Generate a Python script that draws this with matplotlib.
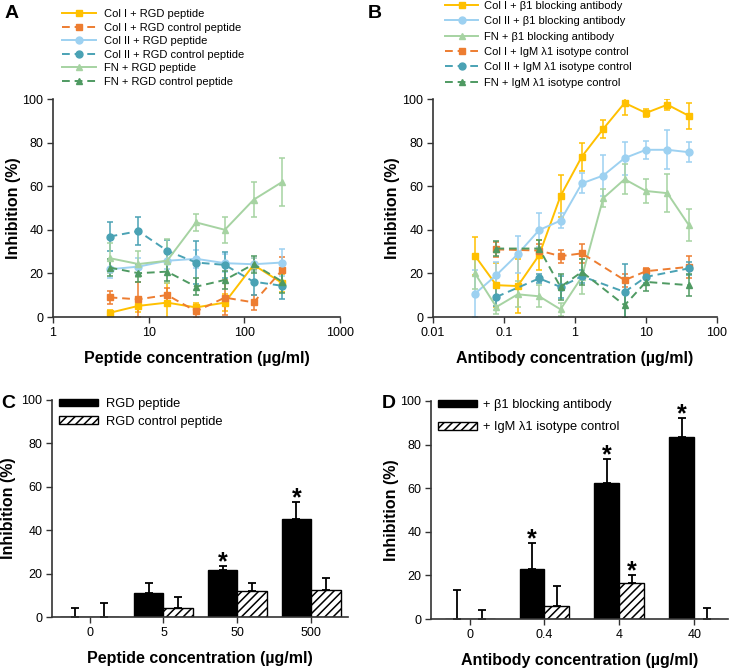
import matplotlib
matplotlib.use("Agg")
import matplotlib.pyplot as plt
import numpy as np

plt.rcParams['font.family'] = ['Liberation Sans', 'DejaVu Sans']
plt.rcParams['hatch.linewidth'] = 1.1

# ---------------- Panel A data ----------------
pep_conc = [3.9, 7.8, 15.6, 31.25, 62.5, 125, 250]
colI_rgd = [1.9, 5.1, 6.6, 4.4, 6.6, 23.9, 15.5]
colI_rgd_err = [1.5, 3, 9, 2, 4, 3, 4]
colI_ctrl = [9.0, 8.1, 10.1, 2.6, 8.9, 6.7, 21.6]
colI_ctrl_err = [3, 8, 3, 3, 8, 3.5, 6]
colII_rgd = [21.9, 23.1, 25.8, 26.7, 24.7, 24.2, 25.0]
colII_rgd_err = [4, 4, 4, 4, 4, 3, 6]
colII_ctrl = [36.9, 39.4, 30.4, 25.0, 23.9, 16.2, 14.3]
colII_ctrl_err = [6.5, 6.5, 5, 10, 6, 6, 6]
fn_rgd = [27.0, 24.3, 25.8, 43.4, 40.0, 53.8, 62.0]
fn_rgd_err = [7, 6, 10, 4, 6, 8, 11]
fn_ctrl = [22.7, 20.1, 20.8, 13.9, 17.0, 24.2, 16.2]
fn_ctrl_err = [4, 4, 4.5, 4, 4, 4, 5]

# ---------------- Panel B data ----------------
ab_conc = [0.039, 0.078, 0.156, 0.3125, 0.625, 1.25, 2.5, 5, 10, 20, 40]
colI_b1 = [28.1, 14.6, 14.2, 28.4, 55.5, 73.6, 86.3, 98.2, 93.6, 97.4, 92.3]
colI_b1_err = [8.7, 10, 12.3, 7, 9.7, 6.4, 4, 5.4, 2, 2.5, 6]
colII_b1 = [10.7, 19.2, 28.8, 39.9, 44.2, 61.3, 64.9, 72.9, 76.7, 76.7, 75.6]
colII_b1_err = [10.7, 6, 8.5, 7.7, 3.5, 4.6, 9.5, 7.6, 4, 9, 4.5]
fn_b1 = [20.0, 4.6, 10.4, 9.5, 3.5, 18.4, 54.5, 63.2, 57.8, 56.8, 42.2]
fn_b1_err = [7, 3, 6, 5, 3, 8, 4, 7, 5.4, 8.7, 7.4]
iso_conc = [0.078, 0.3125, 0.625, 1.25, 5, 10, 40]
colI_iso = [31.0, 30.5, 27.9, 29.2, 16.9, 21.0, 23.0]
colI_iso_err = [3.5, 3, 3, 4.5, 3, 1.5, 5]
colII_iso = [9.2, 17.7, 13.8, 18.7, 11.5, 18.4, 22.3]
colII_iso_err = [4, 2, 5, 3, 12.8, 3, 3]
fn_iso = [31.4, 31.4, 13.8, 20.7, 5.4, 16.1, 14.6]
fn_iso_err = [3.5, 4, 6, 6, 6, 4, 5]

# ---------------- Panel C data ----------------
c_categories = ['0', '5', '50', '500']
c_rgd = [0, 11.1, 21.5, 45.1]
c_rgd_err = [4.3, 4.6, 2.0, 8.0]
c_ctrl = [0, 4.3, 12.0, 12.3]
c_ctrl_err = [6.5, 4.9, 3.7, 5.7]
c_rgd_sig = [False, False, True, True]

# ---------------- Panel D data ----------------
d_categories = ['0', '0.4', '4', '40']
d_b1 = [0, 22.9, 62.2, 83.5]
d_b1_err = [13.4, 11.9, 11.4, 8.5]
d_iso = [0, 5.8, 16.5, 0]
d_iso_err = [4.3, 9.4, 3.5, 5.0]
d_b1_sig = [False, True, True, True]
d_iso_sig = [False, False, True, False]

YELLOW = '#FFC000'
ORANGE = '#ED7D31'
LBLUE = '#9DD1F1'
TEAL = '#4AA2B4'
LGREEN = '#A6D3A2'
DGREEN = '#4F9A62'

W, H = 733, 672
fig = plt.figure(figsize=(W / 100, H / 100), dpi=100)


def rect(l, t, r, b):
    return [l / W, 1 - b / H, (r - l) / W, (b - t) / H]


TICK_FS = 9
LABEL_FS = 11.5


def style_axes(ax, label_right_px, left_px, width_px):
    for s in ['top', 'right']:
        ax.spines[s].set_visible(False)
    for s in ['left', 'bottom']:
        ax.spines[s].set_linewidth(1.2)
        ax.spines[s].set_color('#333333')
    ax.tick_params(axis='both', direction='out', length=4, width=1.0,
                   labelsize=TICK_FS, pad=3, colors='#333333', labelcolor='black')
    ax.tick_params(axis='x', which='minor', length=0)
    ax.set_ylim(0, 100)
    ax.set_yticks([0, 20, 40, 60, 80, 100])
    ax.set_ylabel('Inhibition (%)', fontsize=LABEL_FS, fontweight='bold')
    ax.yaxis.set_label_coords((label_right_px - left_px) / width_px, 0.5)


def line_series(ax, x, y, e, color, marker, dashed, label):
    ls = (0, (4, 2.5)) if dashed else '-'
    cont = ax.errorbar(x, y, yerr=e, color=color, marker=marker, markersize=5,
                       linestyle=ls, linewidth=1.4, elinewidth=1.1, capsize=2.5,
                       capthick=1.1)
    line = cont[0]
    line.set_label(label)
    return line


# ---------------- Panel A ----------------
axA = fig.add_axes(rect(53, 99, 340, 317))
style_axes(axA, 21, 53, 287)
axA.set_xscale('log')
axA.set_xlim(1, 1000)
axA.set_xticks([1, 10, 100, 1000])
axA.set_xticklabels(['1', '10', '100', '1000'])
hA = [
    line_series(axA, pep_conc, colI_rgd, colI_rgd_err, YELLOW, 's', False, 'Col I + RGD peptide'),
    line_series(axA, pep_conc, colI_ctrl, colI_ctrl_err, ORANGE, 's', True, 'Col I + RGD control peptide'),
    line_series(axA, pep_conc, colII_rgd, colII_rgd_err, LBLUE, 'o', False, 'Col II + RGD peptide'),
    line_series(axA, pep_conc, colII_ctrl, colII_ctrl_err, TEAL, 'o', True, 'Col II + RGD control peptide'),
    line_series(axA, pep_conc, fn_rgd, fn_rgd_err, LGREEN, '^', False, 'FN + RGD peptide'),
    line_series(axA, pep_conc, fn_ctrl, fn_ctrl_err, DGREEN, '^', True, 'FN + RGD control peptide'),
]
axA.set_xlabel('Peptide concentration (\u00b5g/ml)', fontsize=LABEL_FS, fontweight='bold', labelpad=9)
axA.legend(handles=hA, loc='upper left', bbox_to_anchor=(62 / W, 1 - 9 / H),
           bbox_transform=fig.transFigure, frameon=False, fontsize=8,
           handlelength=3.1, handletextpad=0.7, labelspacing=0.32,
           borderpad=0, borderaxespad=0, numpoints=1)

# ---------------- Panel B ----------------
axB = fig.add_axes(rect(433, 99, 717, 317))
style_axes(axB, 400, 433, 284)
axB.set_xscale('log')
axB.set_xlim(0.01, 100)
axB.set_xticks([0.01, 0.1, 1, 10, 100])
axB.set_xticklabels(['0.01', '0.1', '1', '10', '100'])
hB = [
    line_series(axB, ab_conc, colI_b1, colI_b1_err, YELLOW, 's', False, 'Col I + \u03b21 blocking antibody'),
    line_series(axB, ab_conc, colII_b1, colII_b1_err, LBLUE, 'o', False, 'Col II + \u03b21 blocking antibody'),
    line_series(axB, ab_conc, fn_b1, fn_b1_err, LGREEN, '^', False, 'FN + \u03b21 blocking antibody'),
    line_series(axB, iso_conc, colI_iso, colI_iso_err, ORANGE, 's', True, 'Col I + IgM \u03bb1 isotype control'),
    line_series(axB, iso_conc, colII_iso, colII_iso_err, TEAL, 'o', True, 'Col II + IgM \u03bb1 isotype control'),
    line_series(axB, iso_conc, fn_iso, fn_iso_err, DGREEN, '^', True, 'FN + IgM \u03bb1 isotype control'),
]
axB.set_xlabel('Antibody concentration (\u00b5g/ml)', fontsize=LABEL_FS, fontweight='bold', labelpad=9)
axB.legend(handles=hB, loc='upper left', bbox_to_anchor=(445 / W, 1 - 1 / H),
           bbox_transform=fig.transFigure, frameon=False, fontsize=8,
           handlelength=3.0, handletextpad=0.55, labelspacing=0.48,
           borderpad=0, borderaxespad=0, numpoints=1)


# ---------------- Bar panels ----------------
def bar_panel(ax, cats, v1, e1, v2, e2, width, lab1, lab2, sig1, sig2, xlab, xlim):
    x = np.arange(len(cats))
    ax.bar(x - width / 2, v1, width, color='black', edgecolor='black', linewidth=1.0, label=lab1, zorder=2)
    ax.bar(x + width / 2, v2, width, color='white', edgecolor='black', linewidth=1.0,
           hatch='////', label=lab2, zorder=2)
    ax.errorbar(x - width / 2, v1, yerr=[np.zeros(len(v1)), e1], fmt='none', ecolor='black',
                elinewidth=1.3, capsize=3, capthick=1.3, zorder=1)
    ax.errorbar(x + width / 2, v2, yerr=[np.zeros(len(v2)), e2], fmt='none', ecolor='black',
                elinewidth=1.3, capsize=3, capthick=1.3, zorder=1)
    for i in range(len(cats)):
        if sig1[i]:
            ax.text(x[i] - width / 2, v1[i] + e1[i] - 1.5, '*', ha='center', va='baseline',
                    fontsize=18, fontweight='bold')
        if sig2[i]:
            ax.text(x[i] + width / 2, v2[i] + e2[i] - 1.5, '*', ha='center', va='baseline',
                    fontsize=18, fontweight='bold')
    ax.set_xticks(x)
    ax.set_xticklabels(cats)
    ax.set_xlim(*xlim)
    ax.set_xlabel(xlab, fontsize=LABEL_FS, fontweight='bold', labelpad=9)


axC = fig.add_axes(rect(52, 400, 348, 617))
style_axes(axC, 16, 52, 296)
bar_panel(axC, c_categories, c_rgd, c_rgd_err, c_ctrl, c_ctrl_err, 0.4,
          'RGD peptide', 'RGD control peptide', c_rgd_sig, [False] * 4,
          'Peptide concentration (\u00b5g/ml)', (-0.51, 3.5))
axC.legend(loc='upper left', bbox_to_anchor=(59 / W, 1 - 398 / H), bbox_transform=fig.transFigure,
           frameon=False, fontsize=9.3, handlelength=3.0, handleheight=0.55,
           handletextpad=0.6, labelspacing=0.45, borderpad=0, borderaxespad=0)

axD = fig.add_axes(rect(431, 401, 728, 619))
style_axes(axD, 399, 431, 297)
bar_panel(axD, d_categories, d_b1, d_b1_err, d_iso, d_iso_err, 0.333,
          '+ \u03b21 blocking antibody', '+ IgM \u03bb1 isotype control', d_b1_sig, d_iso_sig,
          'Antibody concentration (\u00b5g/ml)', (-0.515, 3.45))
axD.legend(loc='upper left', bbox_to_anchor=(438 / W, 1 - 399 / H), bbox_transform=fig.transFigure,
           frameon=False, fontsize=9.3, handlelength=3.0, handleheight=0.55,
           handletextpad=0.5, labelspacing=0.8, borderpad=0, borderaxespad=0)

# Panel letters
for letter, (px, py) in zip('ABCD', [(12, 13), (375, 13), (8, 404), (389, 404)]):
    fig.text(px / W, 1 - py / H, letter, fontsize=14, fontweight='bold', ha='center', va='center')

fig.savefig('out.png', dpi=100)
